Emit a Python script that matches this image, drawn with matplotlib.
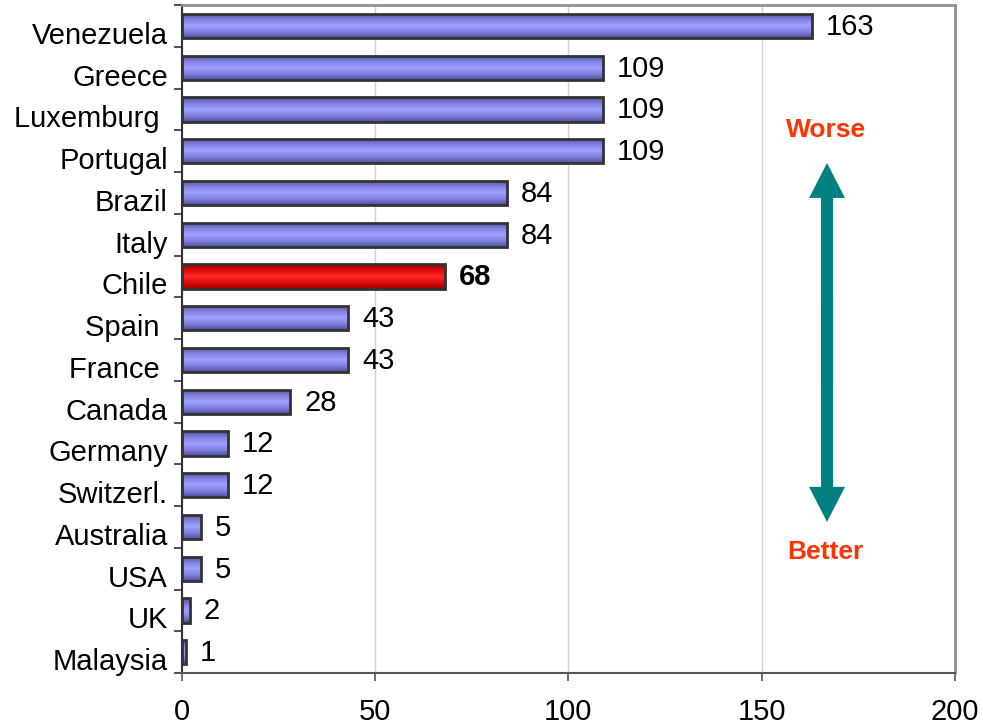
import numpy as np
import matplotlib.pyplot as plt
from matplotlib.colors import LinearSegmentedColormap
from matplotlib.patches import FancyArrow
import matplotlib.transforms as mtransforms

plt.rcParams['font.family'] = ['Liberation Sans', 'DejaVu Sans']

countries = ['Venezuela', 'Greece', 'Luxemburg ', 'Portugal', 'Brazil', 'Italy',
             'Chile', 'Spain ', 'France ', 'Canada', 'Germany', 'Switzerl.',
             'Australia', 'USA', 'UK', 'Malaysia']
values = [163, 109, 109, 109, 84, 84, 68, 43, 43, 28, 12, 12, 5, 5, 2, 1]
highlight = 'Chile'

fig = plt.figure(figsize=(9.83, 7.28), dpi=100)
ax = fig.add_axes([0.185, 0.0755, 0.7865, 0.9175])

pos = np.arange(len(countries))
bars = ax.barh(pos, values, height=0.58, color='none', edgecolor='#333333',
               linewidth=2, zorder=3)

blue = LinearSegmentedColormap.from_list('b', ['#50509a', '#8080e0', '#a0a0ff', '#8080e0', '#50509a'])
red = LinearSegmentedColormap.from_list('r', ['#990000', '#dd0a0a', '#ff2a2a', '#dd0a0a', '#990000'])
grad = np.linspace(0, 1, 64).reshape(-1, 1)
for b, name in zip(bars, countries):
    x0, y0 = b.get_x(), b.get_y()
    w, h = b.get_width(), b.get_height()
    cm = red if name == highlight else blue
    im = ax.imshow(grad, cmap=cm, aspect='auto', extent=(x0, x0 + w, y0 + h, y0),
                   zorder=2, interpolation='bilinear')
    im.set_clip_path(b)

for p, v, name in zip(pos, values, countries):
    bold = name == highlight
    ax.text(v + 3.6, p + 0.02, str(v), va='center', ha='left', fontsize=21,
            fontweight='bold' if bold else 'normal', zorder=4)

ax.set_xlim(0, 200)
ax.set_ylim(len(countries) - 0.5, -0.5)
ax.set_xticks([0, 50, 100, 150, 200])
ax.tick_params(axis='x', labelsize=21, length=6, width=1.2, color='#555555', pad=12)
ax.grid(axis='x', color='#d0d0d0', linewidth=1, zorder=0)
ax.set_axisbelow(True)

ax.set_yticks(np.arange(len(countries) + 1) - 0.5)
ax.set_yticklabels([])
ax.tick_params(axis='y', which='major', length=6, width=1.2, color='#333333')
ax.set_yticks(pos, minor=True)
ax.set_yticklabels(countries, minor=True, fontsize=21)
ax.tick_params(axis='y', which='minor', length=0, pad=10)
shift = mtransforms.ScaledTranslation(0, -7 / 100, fig.dpi_scale_trans)
for lab in ax.get_yticklabels(minor=True):
    lab.set_transform(lab.get_transform() + shift)

ax.spines['left'].set_color('#333333')
ax.spines['left'].set_linewidth(1.5)
ax.spines['bottom'].set_color('#555555')
ax.spines['bottom'].set_linewidth(1.5)
ax.spines['top'].set_color('#909090')
ax.spines['top'].set_linewidth(2)
ax.spines['right'].set_color('#909090')
ax.spines['right'].set_linewidth(2)

# double-headed arrow (data coords: x in value units, y in category units)
arr_x = 166.9
top_tip, bot_tip = 3.28, 11.88
mid = (top_tip + bot_tip) / 2
for start, tip in ((mid + 1, top_tip), (mid - 1, bot_tip)):
    ax.add_patch(FancyArrow(arr_x, start, 0, tip - start, width=3.1, head_width=9.3,
                            head_length=0.84, length_includes_head=True,
                            color='#008080', linewidth=0, zorder=5))

ax.text(0.833, 0.813, 'Worse', transform=ax.transAxes, ha='center', va='center',
        fontsize=19, fontweight='bold', color='#ff3300')
ax.text(0.833, 0.181, 'Better', transform=ax.transAxes, ha='center', va='center',
        fontsize=19, fontweight='bold', color='#ff3300')

fig.savefig('out.png', dpi=100)
